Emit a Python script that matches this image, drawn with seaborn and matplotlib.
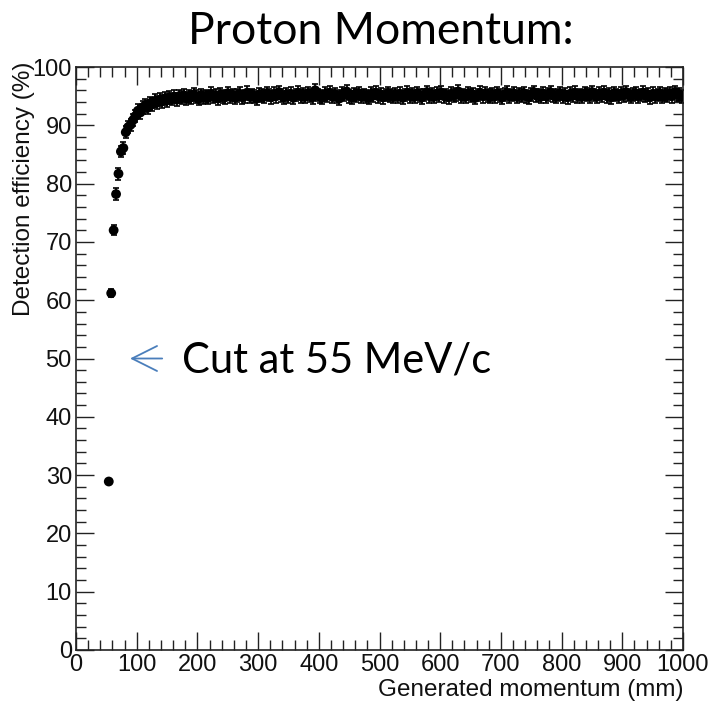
import numpy as np
import matplotlib
matplotlib.use("Agg")
import matplotlib.pyplot as plt
from matplotlib.ticker import MultipleLocator
import seaborn as sns

# ---- data ----
bin_width = 4
bin_centers = np.arange(54, 1000, bin_width)  # histogram bin centres 54 ... 998

efficiency = [
    28.9, 61.2, 72.0, 78.2, 81.7, 85.5, 86.1, 88.8, 89.7, 90.1,
    90.9, 91.6, 92.5, 92.2, 93.1, 93.4, 93.0, 93.8, 93.6, 94.2,
    93.9, 94.4, 94.1, 94.6, 94.3, 94.8, 94.5, 94.9, 94.4, 95.0,
    94.7, 95.1, 94.6, 95.0, 94.8, 95.3, 94.9, 94.5, 95.2, 94.8,
    95.0, 94.7, 95.4, 94.9, 95.1, 94.6, 95.3, 95.0, 94.8, 95.5,
    94.9, 95.2, 94.7, 95.1, 95.4, 94.8, 95.0, 95.6, 94.9, 95.2,
    95.0, 94.6, 95.3, 95.1, 94.9, 95.5, 95.2, 94.8, 95.4, 95.0,
    95.7, 95.1, 94.8, 95.3, 95.0, 95.4, 94.7, 95.2, 95.6, 95.0,
    95.3, 94.9, 95.5, 95.1, 94.8, 96.0, 95.2, 95.0, 94.7, 95.4,
    95.1, 95.6, 94.9, 95.3, 95.0, 94.6, 95.4, 95.2, 95.8, 95.0,
    94.8, 95.3, 95.1, 95.5, 94.9, 95.2, 95.0, 94.7, 95.4, 95.1,
    95.6, 95.0, 95.3, 94.8, 95.2, 95.5, 95.1, 94.9, 95.3, 95.0,
    95.4, 94.7, 95.2, 95.6, 95.0, 95.3, 94.9, 95.5, 95.1, 94.8,
    95.2, 95.7, 95.0, 95.3, 94.9, 95.4, 95.1, 95.6, 95.0, 95.2,
    94.8, 95.4, 95.1, 95.3, 95.8, 95.0, 95.2, 94.9, 95.5, 95.1,
    95.3, 94.7, 95.2, 95.6, 95.0, 95.4, 95.1, 94.9, 95.3, 95.0,
    95.5, 95.1, 94.8, 95.3, 95.6, 95.0, 95.2, 95.4, 94.9, 95.3,
    95.1, 95.5, 95.0, 94.8, 95.3, 95.7, 95.1, 95.2, 94.9, 95.4,
    95.0, 95.3, 95.6, 95.1, 94.9, 95.2, 95.5, 95.0, 95.3, 94.8,
    95.4, 95.1, 95.6, 95.0, 95.2, 94.9, 95.5, 95.3, 95.0, 95.7,
    95.2, 94.9, 95.4, 95.1, 95.6, 95.0, 95.3, 94.8, 95.5, 95.2,
    95.0, 95.4, 95.1, 95.7, 95.2, 94.9, 95.3, 95.5, 95.0, 95.2,
    95.6, 95.1, 95.3, 94.8, 95.4, 95.0, 95.2, 95.5, 94.9, 95.3,
    95.1, 95.4, 95.0, 95.7, 95.2, 95.3, 94.9,
]
# statistical error on each point: larger on the rising edge, ~1.1 on the plateau
err_rise = [0.5, 0.7, 0.9, 1.0, 1.0, 1.0, 1.0, 1.0, 1.0, 1.0]
err_plateau = 1.1
errors = err_rise + [err_plateau] * (len(efficiency) - len(err_rise))

x_ticks = [0, 100, 200, 300, 400, 500, 600, 700, 800, 900, 1000]
y_ticks = [0, 10, 20, 30, 40, 50, 60, 70, 80, 90, 100]

title = "Proton Momentum:"
cut_label = "Cut at 55 MeV/c"
cut_value = 50  # arrow height (%)

# ---- style ----
sns.set_style("ticks")
plt.rcParams["font.family"] = ["Liberation Sans Narrow", "Liberation Sans", "DejaVu Sans"]
plt.rcParams["text.color"] = "black"

W, H = 713, 701
fig = plt.figure(figsize=(W / 100, H / 100), dpi=100)
ax = fig.add_axes([76 / W, 51 / H, 607 / W, 583 / H])

ax.errorbar(bin_centers, efficiency, yerr=errors, fmt="none", ecolor="black",
            elinewidth=1.2, capsize=2.5, capthick=1.2, zorder=2)
sns.scatterplot(x=bin_centers, y=efficiency, ax=ax, color="black", s=50,
                edgecolor="none", linewidth=0, zorder=3)

ax.set_xlim(0, 1000)
ax.set_ylim(0, 100)
ax.set_xticks(x_ticks)
ax.set_yticks(y_ticks)
ax.xaxis.set_minor_locator(MultipleLocator(20))
ax.yaxis.set_minor_locator(MultipleLocator(2))
ax.tick_params(which="both", direction="in", top=True, right=True,
               color="#222222", width=1.0, labelsize=17, pad=3,
               labelcolor="#111111")
ax.tick_params(which="major", length=13)
ax.tick_params(which="minor", length=7)
for s in ax.spines.values():
    s.set_linewidth(1.2)
    s.set_color("#222222")

ax.set_xlabel("Generated momentum (mm)", fontsize=17.5, loc="right", labelpad=2,
              color="#111111")
ax.set_ylabel("Detection efficiency (%)", fontsize=17.5, loc="top", color="#111111")
ax.yaxis.set_label_coords(-0.067, 1.01)

fig.text(381 / W, 1 - 44 / H, title, ha="center", va="baseline", color="black",
         fontsize=32, family=["Lato", "DejaVu Sans"])

ax.annotate("", xy=(89, cut_value), xytext=(142, cut_value),
            arrowprops=dict(arrowstyle="->,head_length=0.9,head_width=0.45",
                            color="#4a7ebb", lw=1.3, mutation_scale=20,
                            shrinkA=0, shrinkB=0))
ax.text(175, 47.6, cut_label, ha="left", va="baseline", fontsize=30, color="black",
        family=["Lato", "DejaVu Sans"])

fig.savefig("out.png", dpi=100)
